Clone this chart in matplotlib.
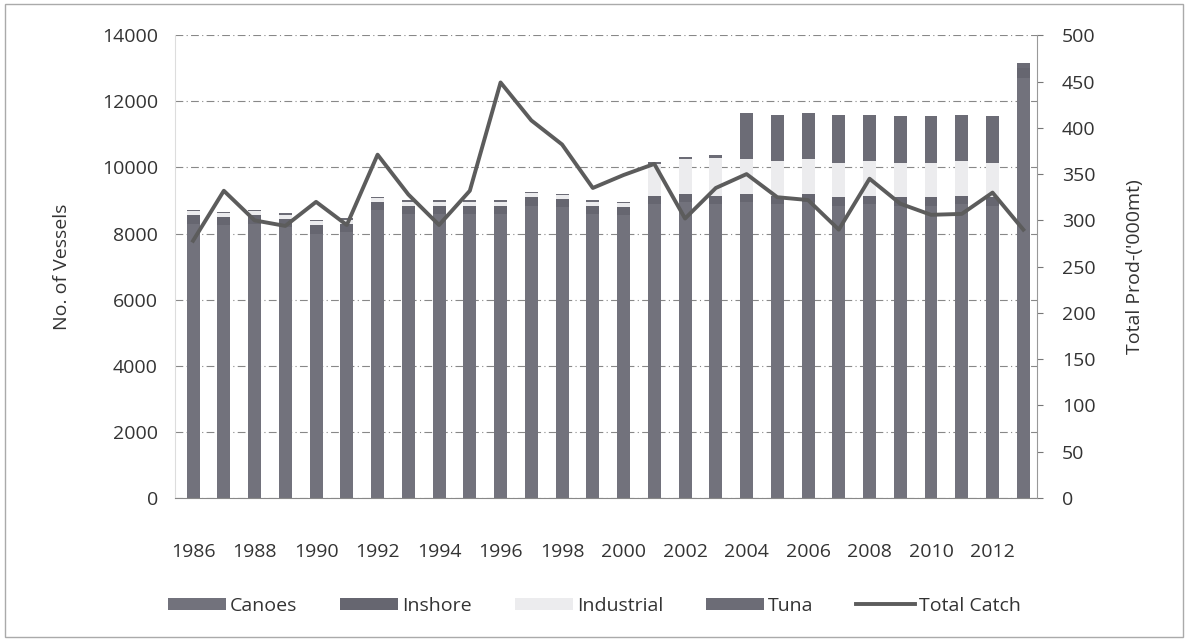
import numpy as np
import matplotlib.pyplot as plt
from matplotlib.patches import Rectangle

plt.rcParams['font.family'] = ['Open Sans', 'DejaVu Sans']

# data
years = list(range(1986, 2014))
canoes = [8300, 8250, 8300, 8200, 8000, 8050, 8700, 8600, 8600, 8600,
          8600, 8850, 8800, 8600, 8550, 8900, 8950, 8900, 8950, 8900,
          8950, 8850, 8900, 8850, 8850, 8900, 8850, 12700]
inshore = [250] * 27 + [300]
industrial = [120] * 15 + [950, 1050, 1150] + [1050] * 9 + [0]
tuna = [40] * 15 + [80, 80, 80] + [1400, 1400, 1400, 1450, 1400, 1400, 1400, 1400, 1400] + [150]
total_catch = [278, 332, 300, 294, 320, 295, 371, 328, 295, 332,
               449, 408, 382, 335, 349, 361, 302, 335, 350, 325,
               322, 290, 345, 318, 306, 307, 330, 290]

fig = plt.figure(figsize=(11.88, 6.41), dpi=100)
ax = fig.add_axes([0.147, 0.223, 0.726, 0.722])
ax2 = ax.twinx()

x = np.arange(len(years))
w = 0.42
b1 = np.array(canoes)
b2 = b1 + np.array(inshore)
b3 = b2 + np.array(industrial)
ax.bar(x, canoes, w, color='#72727c', label='Canoes', zorder=2)
ax.bar(x, inshore, w, bottom=b1, color='#666670', label='Inshore', zorder=2)
ax.bar(x, industrial, w, bottom=b2, color='#ececee', label='Industrial', zorder=2)
ax.bar(x, tuna, w, bottom=b3, color='#6c6c76', label='Tuna', zorder=2)

ax2.plot(x, total_catch, color='#5c5c5c', lw=2.8, label='Total Catch', zorder=3)

ax.set_xlim(-0.6, len(years) - 0.55)
ax.set_ylim(0, 14000)
ax2.set_ylim(0, 500)
ax.set_yticks(range(0, 14001, 2000))
ax2.set_yticks(range(0, 501, 50))
ax.set_xticks(x[::2])
ax.set_xticklabels([str(y) for y in years[::2]])
ax.yaxis.grid(True, color='#888888', lw=0.8, linestyle=(0, (7, 3, 1, 3)), zorder=0)
ax.set_axisbelow(True)

for a in (ax, ax2):
    a.tick_params(labelsize=14, colors='#333333', length=0, pad=10)
    for s in a.spines.values():
        s.set_visible(False)
ax2.spines['right'].set_visible(True)
ax2.spines['right'].set_color('#999999')
ax2.tick_params(axis='y', length=4, direction='out', color='#777777', pad=14)
ax.spines['bottom'].set_visible(True)
ax.spines['bottom'].set_color('#888888')
ax.spines['left'].set_visible(True)
ax.spines['left'].set_color('#dddddd')
ax.tick_params(axis='x', pad=32)
ax.tick_params(axis='y', pad=12)

ax.set_ylabel('No. of Vessels', fontsize=14, color='#333333', labelpad=22)
ax2.set_ylabel("Total Prod-('000mt)", fontsize=14, color='#333333', labelpad=22)

h1, l1 = ax.get_legend_handles_labels()
h2, l2 = ax2.get_legend_handles_labels()
fig.legend(h1 + h2, l1 + l2, loc='center', bbox_to_anchor=(0.5, 0.055), ncol=5,
           frameon=False, fontsize=14, handlelength=3.0, handleheight=0.6,
           columnspacing=2.2, handletextpad=0.2, labelcolor='#333333')

fig.patches.append(Rectangle((0.004, 0.006), 0.992, 0.988, transform=fig.transFigure,
                             fill=False, edgecolor='#aaaaaa', lw=1))

fig.savefig('out.png', dpi=100)
